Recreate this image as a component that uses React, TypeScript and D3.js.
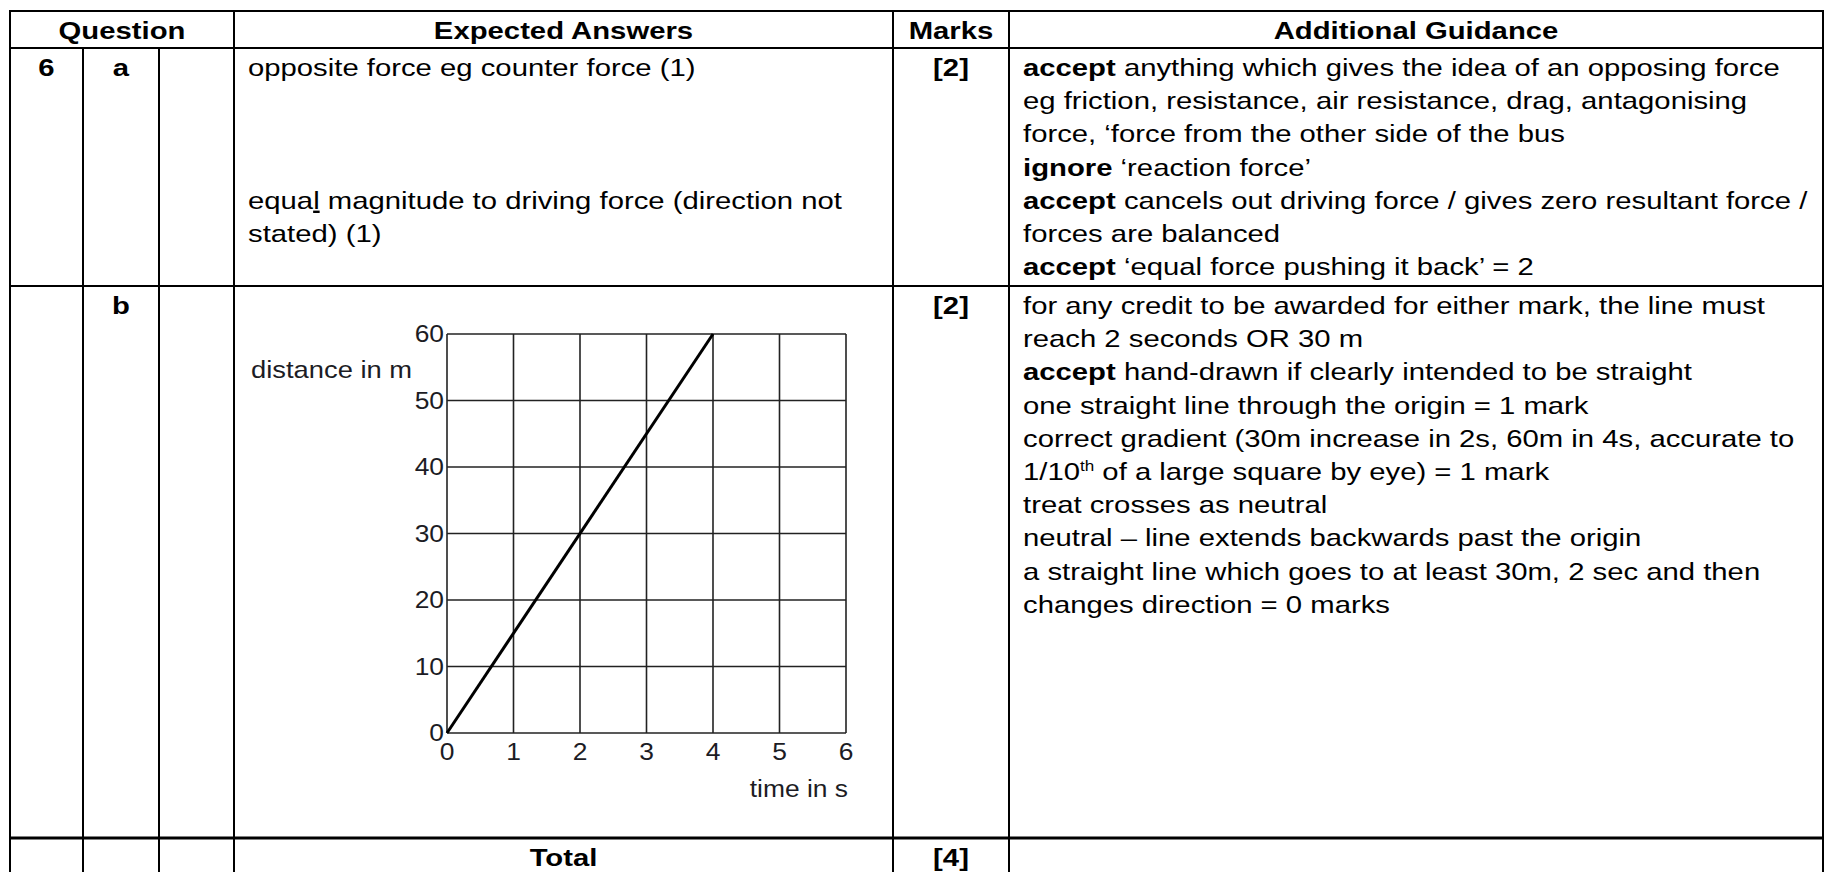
import * as d3 from "d3";

// chart data
const timeValues = [0, 4];
const distanceValues = [0, 60];
const xTicks = [0, 1, 2, 3, 4, 5, 6];
const yTicks = [0, 10, 20, 30, 40, 50, 60];

// table content
const headers = ["Question", "Expected Answers", "Marks", "Additional Guidance"];
const marks = ["[2]", "[2]", "[4]"];
const guidanceA = [
  ["accept", " anything which gives the idea of an opposing force"],
  ["", "eg friction, resistance, air resistance, drag, antagonising"],
  ["", "force, \u2018force from the other side of the bus"],
  ["ignore", " \u2018reaction force\u2019"],
  ["accept", " cancels out driving force / gives zero resultant force /"],
  ["", "forces are balanced"],
  ["accept", " \u2018equal force pushing it back\u2019 = 2"],
];
const guidanceB = [
  ["", "for any credit to be awarded for either mark, the line must"],
  ["", "reach 2 seconds OR 30 m"],
  ["accept", " hand-drawn if clearly intended to be straight"],
  ["", "one straight line through the origin = 1 mark"],
  ["", "correct gradient (30m increase in 2s, 60m in 4s, accurate to"],
  ["", "1/10|th| of a large square by eye) = 1 mark"],
  ["", "treat crosses as neutral"],
  ["", "neutral \u2013 line extends backwards past the origin"],
  ["", "a straight line which goes to at least 30m, 2 sec and then"],
  ["", "changes direction = 0 marks"],
];

const W = 1825;
const H = 872;
const cols = [10, 83, 159, 234, 893, 1009, 1823];
const rows = [11, 48, 286, 838, 900];
const FONT = "'Liberation Sans', Arial, sans-serif";
const SX = 1.22;
const LH = 33.2;

const Txt = ({ x, y, anchor = "start", bold = false, size = 24, sx = SX, fill = "#000", children }: any) => (
  <text
    transform={`translate(${x},${y}) scale(${sx},1)`}
    textAnchor={anchor}
    fontFamily={FONT}
    fontSize={size}
    fontWeight={bold ? "bold" : "normal"}
    fill={fill}
  >
    {children}
  </text>
);

const GuideLine = ({ x, y, item }: any) => {
  const [b, rest] = item;
  const parts = rest.split("|");
  return (
    <Txt x={x} y={y}>
      {b && <tspan fontWeight="bold">{b}</tspan>}
      {parts.length === 3 ? (
        <>
          <tspan>{parts[0]}</tspan>
          <tspan fontSize={14} dy={-9}>{parts[1]}</tspan>
          <tspan dy={9}>{parts[2]}</tspan>
        </>
      ) : (
        <tspan>{rest}</tspan>
      )}
    </Txt>
  );
};

const Chart = () => {
  const x = d3.scaleLinear().domain([0, 6]).range([447, 846]);
  const y = d3.scaleLinear().domain([0, 60]).range([733, 334]);
  const pts = timeValues.map((t, i) => [t, distanceValues[i]] as [number, number]);
  const line = d3
    .line<[number, number]>()
    .x(d => x(d[0]))
    .y(d => y(d[1]));
  const labelFill = "#1c1c24";
  return (
    <g>
      {xTicks.map(t => (
        <line key={"vx" + t} x1={x(t)} x2={x(t)} y1={y(0)} y2={y(60)} stroke="#222" strokeWidth={1.6} />
      ))}
      {yTicks.map(t => (
        <line key={"hy" + t} x1={x(0)} x2={x(6)} y1={y(t)} y2={y(t)} stroke="#222" strokeWidth={1.6} />
      ))}
      <path d={line(pts) || ""} fill="none" stroke="#000" strokeWidth={3} />
      {yTicks.map(t => (
        <Txt key={"yl" + t} x={x(0) - 3} y={y(t) + 8} anchor="end" sx={1.1} fill={labelFill}>
          {t}
        </Txt>
      ))}
      {xTicks.map(t => (
        <Txt key={"xl" + t} x={x(t)} y={y(0) + 27} anchor="middle" sx={1.1} fill={labelFill}>
          {t}
        </Txt>
      ))}
      <Txt x={251} y={378} sx={1.14} fill={labelFill}>distance in m</Txt>
      <Txt x={848} y={797} anchor="end" sx={1.1} fill={labelFill}>time in s</Txt>
    </g>
  );
};

export default function App() {
  const mid = (a: number, b: number) => (cols[a] + cols[b]) / 2;
  const padL = 14;
  return (
    <svg width={W} height={H} style={{ position: "absolute", left: 0, top: 0, background: "#fff" }}>
      {/* header */}
      <Txt x={mid(0, 3)} y={39} anchor="middle" bold>{headers[0]}</Txt>
      <Txt x={mid(3, 4)} y={39} anchor="middle" bold>{headers[1]}</Txt>
      <Txt x={mid(4, 5)} y={39} anchor="middle" bold>{headers[2]}</Txt>
      <Txt x={mid(5, 6)} y={39} anchor="middle" bold>{headers[3]}</Txt>

      {/* row a */}
      <Txt x={mid(0, 1)} y={76} anchor="middle" bold>6</Txt>
      <Txt x={mid(1, 2)} y={76} anchor="middle" bold>a</Txt>
      <Txt x={cols[3] + padL} y={76}>opposite force eg counter force (1)</Txt>
      <Txt x={cols[3] + padL} y={76 + 4 * LH}>
        <tspan>equa</tspan>
        <tspan style={{ textDecoration: "underline" }}>l</tspan>
        <tspan> magnitude to driving force (direction not</tspan>
      </Txt>
      <Txt x={cols[3] + padL} y={76 + 5 * LH}>stated) (1)</Txt>
      <Txt x={mid(4, 5)} y={76} anchor="middle" bold>{marks[0]}</Txt>
      {guidanceA.map((g, i) => (
        <GuideLine key={"a" + i} x={cols[5] + padL} y={76 + i * LH} item={g} />
      ))}

      {/* row b */}
      <Txt x={mid(1, 2)} y={314} anchor="middle" bold>b</Txt>
      <Txt x={mid(4, 5)} y={314} anchor="middle" bold>{marks[1]}</Txt>
      {guidanceB.map((g, i) => (
        <GuideLine key={"b" + i} x={cols[5] + padL} y={314 + i * LH} item={g} />
      ))}
      <Chart />

      {/* total */}
      <Txt x={mid(3, 4)} y={866} anchor="middle" bold>Total</Txt>
      <Txt x={mid(4, 5)} y={866} anchor="middle" bold>{marks[2]}</Txt>

      {/* table rules */}
      {[0, 3, 4, 5, 6].map(i => (
        <line key={"c" + i} x1={cols[i]} x2={cols[i]} y1={rows[0]} y2={H + 10} stroke="#000" strokeWidth={2} />
      ))}
      {[1, 2].map(i => (
        <line key={"ci" + i} x1={cols[i]} x2={cols[i]} y1={rows[1]} y2={H + 10} stroke="#000" strokeWidth={2} />
      ))}
      {rows.slice(0, 3).map((r, i) => (
        <line key={"r" + i} x1={cols[0] - 1} x2={cols[6] + 1} y1={r} y2={r} stroke="#000" strokeWidth={2} />
      ))}
      <line x1={cols[0] - 1} x2={cols[6] + 1} y1={rows[3]} y2={rows[3]} stroke="#000" strokeWidth={3} />
    </svg>
  );
}
